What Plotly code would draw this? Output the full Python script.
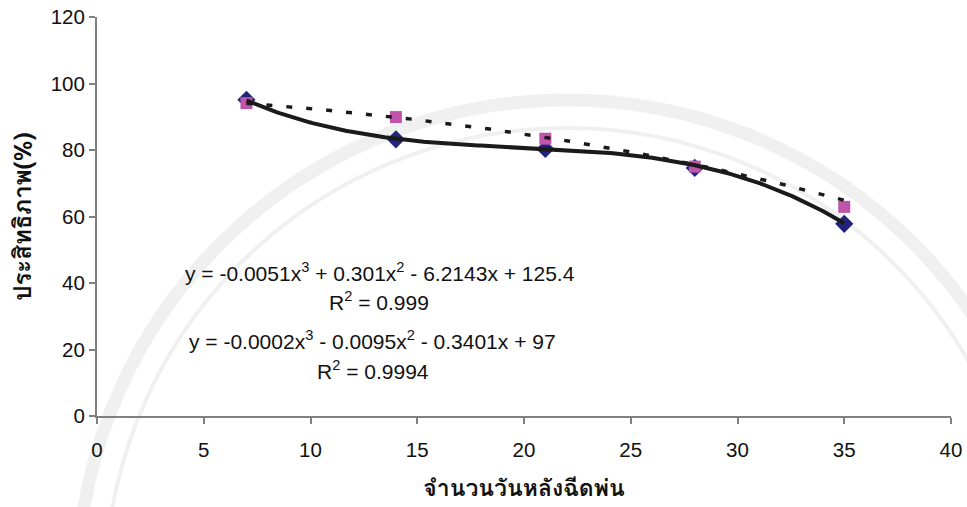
import numpy as np
import plotly.graph_objects as go

# Days after spraying and measured efficacy (%) for the two treatments
days = [7, 14, 21, 28, 35]
efficacy_a = [95.1, 83.2, 80.3, 74.6, 57.8]
efficacy_b = [94.1, 89.9, 83.4, 75.0, 62.9]

# Cubic trendline coefficients (x^3, x^2, x, const) and fit quality
coef_a = [-0.0051, 0.301, -6.2143, 125.4]
coef_b = [-0.0002, -0.0095, -0.3401, 97]
r2_a = "0.999"
r2_b = "0.9994"

x_ticks = [0, 5, 10, 15, 20, 25, 30, 35, 40]
y_ticks = [0, 20, 40, 60, 80, 100, 120]

W, H = 967, 507
M_L, M_R, M_T, M_B = 97, 16, 17, 91

font_family = "Liberation Sans, Arial, sans-serif"
thai_family = ("Tahoma, Loma, Garuda, Noto Sans Thai Looped, Noto Sans Thai, "
               "Liberation Sans, sans-serif")

xs = np.linspace(days[0], days[-1], 200)
fit_a = np.polyval(coef_a, xs)
fit_b = np.polyval(coef_b, xs)

fig = go.Figure()
fig.add_trace(go.Scatter(
    x=days, y=efficacy_a, mode="markers",
    marker=dict(symbol="diamond", size=14, color="#23237a"),
    showlegend=False, hoverinfo="x+y"))
fig.add_trace(go.Scatter(
    x=days, y=efficacy_b, mode="markers",
    marker=dict(symbol="square", size=12, color="#c054aa"),
    showlegend=False, hoverinfo="x+y"))
fig.add_trace(go.Scatter(
    x=xs, y=fit_b, mode="lines",
    line=dict(color="#1a1a1a", width=3.5, dash="6px,14px"),
    showlegend=False, hoverinfo="skip"))
fig.add_trace(go.Scatter(
    x=xs, y=fit_a, mode="lines",
    line=dict(color="#1a1a1a", width=4),
    showlegend=False, hoverinfo="skip"))


def fmt(v):
    return f"{abs(v):g}"


def equation(c):
    s = f"y = {'-' if c[0] < 0 else ''}{fmt(c[0])}x<sup>3</sup>"
    s += f" {'-' if c[1] < 0 else '+'} {fmt(c[1])}x<sup>2</sup>"
    s += f" {'-' if c[2] < 0 else '+'} {fmt(c[2])}x"
    s += f" {'-' if c[3] < 0 else '+'} {fmt(c[3])}"
    return s


labels = [
    (equation(coef_a), 13.24, 43.3),
    (f"R<sup>2</sup> = {r2_a}", 13.22, 34.6),
    (equation(coef_b), 12.89, 22.9),
    (f"R<sup>2</sup> = {r2_b}", 12.94, 13.8),
]
for text, ax_x, ax_y in labels:
    fig.add_annotation(x=ax_x, y=ax_y, text=text, showarrow=False,
                       xanchor="center", yanchor="middle",
                       font=dict(family=font_family, size=21, color="#111111"))


# Faint circular seal in the page background
def px_to_paper(px, py):
    pw = W - M_L - M_R
    ph = H - M_T - M_B
    return (px - M_L) / pw, (H - M_B - py) / ph


def ring(cx, cy, r, width, color):
    x0, y0 = px_to_paper(cx - r, cy + r)
    x1, y1 = px_to_paper(cx + r, cy - r)
    fig.add_shape(type="circle", xref="paper", yref="paper",
                  x0=x0, y0=y0, x1=x1, y1=y1, layer="below",
                  line=dict(color=color, width=width),
                  fillcolor="rgba(0,0,0,0)")


ring(567, 590, 490, 13, "#f0f0f0")
ring(567, 590, 462, 4, "#f0f0f0")

fig.update_xaxes(
    range=[0, 40], tickvals=x_ticks, showgrid=False, zeroline=False,
    automargin=False,
    showline=True, linecolor="#808080", linewidth=2,
    ticks="outside", ticklen=6, tickcolor="#808080", tickwidth=1.5,
    tickfont=dict(family=font_family, size=20.5, color="#111111"),
    ticklabelstandoff=8,
    title=dict(text="<b>จำนวนวันหลังฉีดพ่น</b>", standoff=20,
               font=dict(family=thai_family, size=23, color="#111111")))
fig.update_yaxes(
    range=[0, 120], tickvals=y_ticks, showgrid=False, zeroline=False,
    automargin=False,
    showline=True, linecolor="#808080", linewidth=2,
    ticks="outside", ticklen=6, tickcolor="#808080", tickwidth=1.5,
    tickfont=dict(family=font_family, size=20.5, color="#111111"),
    title=dict(text="<b>ประสิทธิภาพ(%)</b>", standoff=12,
               font=dict(family=thai_family, size=24, color="#111111")))

fig.update_layout(
    width=W, height=H,
    margin=dict(l=M_L, r=M_R, t=M_T, b=M_B),
    paper_bgcolor="white", plot_bgcolor="rgba(0,0,0,0)")

fig.write_html("out.html")
